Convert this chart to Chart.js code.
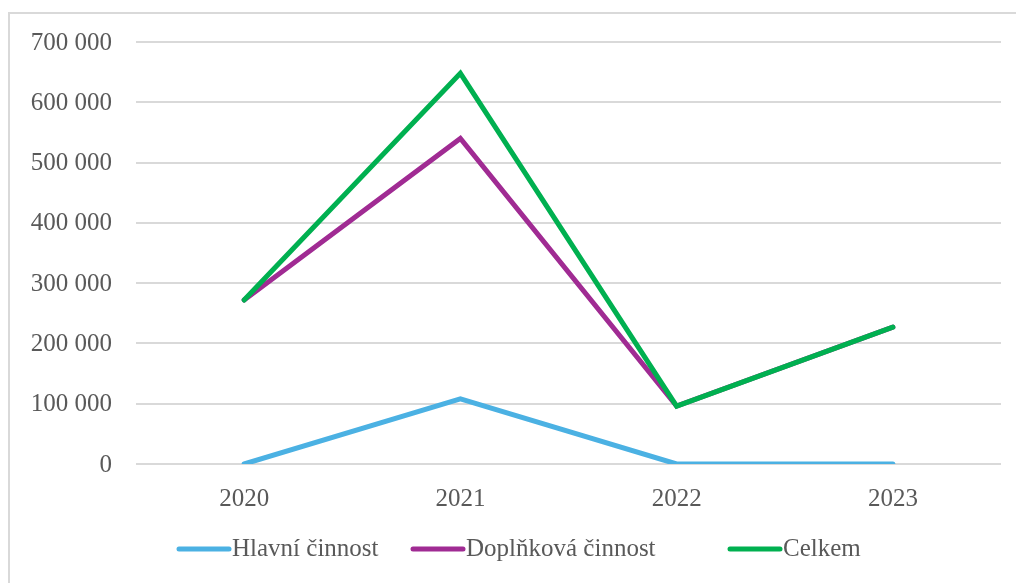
<!DOCTYPE html>
<html>
<head>
<meta charset="utf-8">
<script src="https://cdn.jsdelivr.net/npm/chart.js@4.4.1/dist/chart.umd.min.js"></script>
<style>
  html, body { margin: 0; padding: 0; background: #fff; overflow: hidden; }
  #wrap { position: absolute; left: 0; top: 0; width: 1016px; height: 583px; }
  #frame { position: absolute; left: 8px; top: 12px; width: 1100px; height: 700px; border: 2px solid #d9d9d9; box-sizing: border-box; pointer-events: none; }
  canvas { position: absolute; left: 0; top: 0; }
</style>
</head>
<body>
<div id="wrap">
  <div id="frame"></div>
  <canvas id="c" width="1016" height="583"></canvas>
</div>
<script>
const categories = ['2020', '2021', '2022', '2023'];
const seriesNames = ['Hlavní činnost', 'Doplňková činnost', 'Celkem'];
const hlavni = [0, 108000, 0, 0];
const doplnkova = [272000, 540000, 96000, 227000];
const celkem = [272000, 648000, 96000, 227000];
const yTicks = [0, 100000, 200000, 300000, 400000, 500000, 600000, 700000];
const colors = ['#4BB1E3', '#A02B93', '#00B050'];

const FONT = "'Liberation Serif', 'Times New Roman', serif";
const TEXT = '#595959';

const legendPlugin = {
  id: 'customLegend',
  afterDraw(chart) {
    const ctx = chart.ctx;
    const starts = [177, 411, 728];
    const y = 549;
    ctx.save();
    ctx.font = '25px ' + FONT;
    ctx.textBaseline = 'middle';
    ctx.textAlign = 'left';
    chart.data.datasets.forEach((ds, i) => {
      const x = starts[i];
      ctx.strokeStyle = ds.borderColor;
      ctx.lineWidth = 5;
      ctx.lineCap = 'round';
      ctx.beginPath();
      ctx.moveTo(x + 2, y);
      ctx.lineTo(x + 52, y);
      ctx.stroke();
      ctx.fillStyle = TEXT;
      ctx.fillText(ds.label, x + 55, y);
    });
    ctx.restore();
  }
};

new Chart(document.getElementById('c'), {
  type: 'line',
  data: {
    labels: categories,
    datasets: [
      { label: seriesNames[0], data: hlavni, borderColor: colors[0], order: 2 },
      { label: seriesNames[1], data: doplnkova, borderColor: colors[1], order: 1 },
      { label: seriesNames[2], data: celkem, borderColor: colors[2], order: 0 }
    ]
  },
  options: {
    responsive: false,
    animation: false,
    devicePixelRatio: 1,
    layout: { padding: { top: 42, right: 15, left: 0, bottom: 0 } },
    elements: {
      line: { borderWidth: 5, tension: 0, borderCapStyle: 'round', borderJoinStyle: 'miter', fill: false },
      point: { radius: 0, hoverRadius: 0 }
    },
    plugins: { legend: { display: false }, tooltip: { enabled: false } },
    scales: {
      x: {
        offset: true,
        grid: { display: false, drawTicks: false },
        border: { display: false },
        ticks: { font: { family: FONT, size: 25 }, color: TEXT, padding: 20 },
        afterFit(s) { s.height = 119; }
      },
      y: {
        min: 0, max: 700000,
        afterBuildTicks(s) { s.ticks = yTicks.map(v => ({ value: v })); },
        grid: { color: '#d9d9d9', lineWidth: 2, drawTicks: false },
        border: { display: false },
        ticks: {
          font: { family: FONT, size: 25 }, color: TEXT, padding: 24, labelOffset: 1,
          callback: v => v === 0 ? '0' : String(v).replace(/\B(?=(\d{3})+(?!\d))/g, ' ')
        },
        afterFit(s) { s.width = 136; }
      }
    }
  },
  plugins: [legendPlugin]
});
</script>
</body>
</html>
